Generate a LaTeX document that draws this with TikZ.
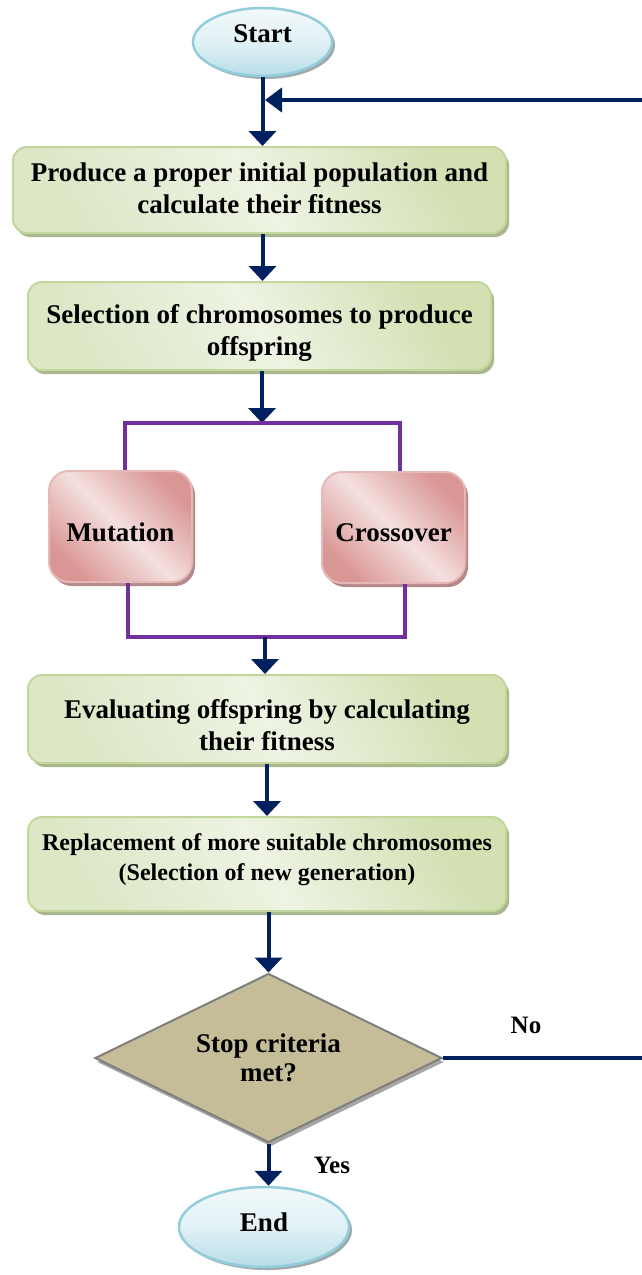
\documentclass[tikz,border=0pt]{standalone}
\usepackage{fontspec}
\setmainfont{Liberation Serif}
\usetikzlibrary{shapes.geometric,arrows.meta,shadows}
\definecolor{navy}{HTML}{002060}
\definecolor{purp}{HTML}{7030A0}
\definecolor{gedge}{HTML}{D2E0B2}
\definecolor{gmid}{HTML}{EEF3E3}
\definecolor{gbot}{HTML}{DCE7C6}
\definecolor{gborder}{HTML}{C3D69B}
\definecolor{gshadow}{HTML}{A9B78F}
\definecolor{pdark}{HTML}{D99694}
\definecolor{plight}{HTML}{F4E0DF}
\definecolor{pborder}{HTML}{E6B9B8}
\definecolor{pshadow}{HTML}{B38A89}
\definecolor{btop}{HTML}{F2F9FB}
\definecolor{bbot}{HTML}{B7DDE8}
\definecolor{bborder}{HTML}{92CDDC}
\definecolor{bshadow}{HTML}{9FA8AA}
\definecolor{dfill}{HTML}{C4BD97}
\definecolor{dborder}{HTML}{7F7F7F}
\definecolor{dshadow}{HTML}{A6A6A6}
\newcommand\mvtext[2]{\raisebox{#1}[\height][\depth]{\begin{tabular}{@{}c@{}}#2\end{tabular}}}
\begin{document}
\begin{tikzpicture}[x=1pt,y=-1pt,
  txt/.style={font=\fontsize{27}{32}\selectfont\bfseries, align=center},
  gbox/.style={txt, draw=gborder, line width=2pt, rounded corners=14pt,
    shade, top color=gedge, bottom color=gbot, middle color=gmid, shading angle=-60,
    drop shadow={shadow xshift=3pt, shadow yshift=-4pt, fill=gshadow, opacity=1},
    inner sep=0pt},
  pbox/.style={txt, draw=pborder, line width=2pt, rounded corners=20pt,
    shade, top color=pdark, bottom color=pdark, middle color=plight, shading angle=-45,
    drop shadow={shadow xshift=3pt, shadow yshift=-4pt, fill=pshadow, opacity=1},
    minimum width=143pt, minimum height=111pt, inner sep=0pt},
  term/.style={txt, ellipse, draw=bborder, line width=2.5pt,
    shade, top color=btop, bottom color=bbot, middle color=btop!70!bbot,
    drop shadow={shadow xshift=3pt, shadow yshift=-3pt, fill=bshadow, opacity=1},
    inner sep=0pt},
  decide/.style={txt, font=\fontsize{27}{29}\selectfont\bfseries, diamond, aspect=2,
    draw=dborder, line width=2pt, fill=dfill,
    drop shadow={shadow xshift=2pt, shadow yshift=-4pt, fill=dshadow, opacity=1},
    minimum width=347pt, minimum height=169pt, inner sep=0pt},
  arr/.style={draw=navy, line width=4pt, -{Triangle[width=27pt,length=15pt]}},
  fbarr/.style={draw=navy, line width=4pt, -{Triangle[width=24pt,length=17pt]}},
  brk/.style={draw=purp, line width=3.5pt},
  lbl/.style={font=\fontsize{25}{30}\selectfont\bfseries}]
\useasboundingbox (0,0) rectangle (642,1275);
\fill[white] (0,0) rectangle (642,1275);

\node[term, minimum width=139pt, minimum height=68pt] (start) at (262.5,42)
  {\raisebox{8pt}[\height][\depth]{Start}};
\node[gbox, minimum width=493pt, minimum height=86pt] (b1) at (259.5,190)
  {\mvtext{-1pt}{Produce a proper initial population and\\calculate their fitness}};
\node[gbox, minimum width=463pt, minimum height=88pt] (b2) at (259.5,326)
  {\mvtext{-7.5pt}{Selection of chromosomes to produce\\offspring}};
\node[pbox] (mut) at (120.5,526.5) {\raisebox{-6pt}[\height][\depth]{Mutation}};
\node[pbox] (cross) at (393.5,527.5) {\raisebox{-5pt}[\height][\depth]{Crossover}};
\node[gbox, minimum width=478pt, minimum height=88pt] (b3) at (267,719)
  {\mvtext{-9.5pt}{Evaluating offspring by calculating\\their fitness}};
\node[gbox, minimum width=478pt, minimum height=94pt,
  font=\fontsize{24}{30}\selectfont\bfseries] (b4) at (267,864)
  {\mvtext{5pt}{Replacement of more suitable chromosomes\\(Selection of new generation)}};
\node[decide] (dia) at (268.5,1058) {Stop criteria\\met?};
\node[term, minimum width=170pt, minimum height=80pt] (end) at (264,1227)
  {\raisebox{5pt}[\height][\depth]{End}};

\node[lbl] (no) at (526,1025) {No};
\node[lbl] (yes) at (332,1165) {Yes};

\coordinate (bt) at (262,423);
\coordinate (tl) at (125,423);
\coordinate (tr) at (400,423);
\coordinate (bb) at (265,637);
\coordinate (bl) at (128,637);
\coordinate (brr) at (405,637);
\coordinate (c34) at (267,0);
\coordinate (fr) at (655,0);
\coordinate (fbin) at (265,100);

\draw[arr] (start) -- (b1.north -| start);
\draw[arr] (b1.south -| start) -- (b2.north -| start);
\draw[arr] (b2.south -| bt) -- (bt);
\draw[brk] (mut.north -| tl) -- (tl) -- (tr) -- (cross.north -| tr);
\draw[brk] (mut.south -| bl) -- (bl) -- (brr) -- (cross.south -| brr);
\draw[arr] (bb) -- (b3.north -| bb);
\draw[arr] (b3.south -| c34) -- (b4.north -| c34);
\draw[arr] (b4.south -| dia) -- (dia.north);
\draw[arr] (dia.south) -- (end.north -| dia);
\begin{scope}
\clip (0,0) rectangle (642,1275);
\draw[fbarr] (dia.east) -- (dia.east -| fr) -- (fbin -| fr) -- (fbin);
\end{scope}
\end{tikzpicture}
\end{document}
